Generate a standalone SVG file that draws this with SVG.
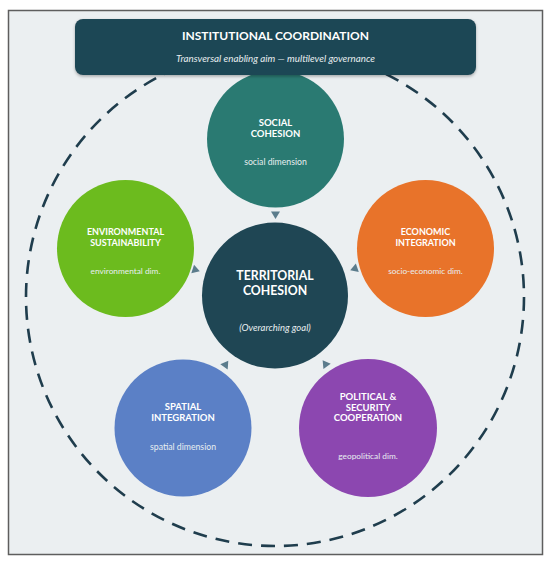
<svg xmlns="http://www.w3.org/2000/svg" width="550" height="565" viewBox="0 0 550 565">
<defs>
<style>
.ttl{font-family:Lato,"Open Sans","Liberation Sans",sans-serif;font-weight:700;fill:#ffffff;text-anchor:middle}
.sub{font-family:Lato,"Open Sans","Liberation Sans",sans-serif;font-weight:400;fill:#e8eef0;text-anchor:middle}
.it{font-style:italic}
.arr{fill:#5b7c8c}
</style>
<filter id="sh" x="-10%" y="-30%" width="120%" height="160%">
<feDropShadow dx="0" dy="1.5" stdDeviation="1.5" flood-color="#000" flood-opacity="0.3"/>
</filter>
</defs>
<rect x="0" y="0" width="550" height="565" fill="#ffffff"/>
<rect x="8.5" y="10.5" width="534" height="544" fill="#ebeff1" stroke="#5e5e5e" stroke-width="1.5"/>
<circle id="boundary" cx="275" cy="297" r="249" fill="none" stroke="#1f3d4d" stroke-width="2.6" stroke-dasharray="14 9"/>
<g id="social">
<circle cx="275.5" cy="139" r="68.5" fill="#2a7a72"/>
<text class="ttl" x="275.5" y="126" font-size="9.5">SOCIAL</text>
<text class="ttl" x="275.5" y="136.5" font-size="9.5">COHESION</text>
<text class="sub" x="275.5" y="165" font-size="8.7">social dimension</text>
</g>
<g id="institutional">
<rect x="75" y="19" width="401" height="56" rx="8" fill="#1f4654" filter="url(#sh)"/>
<text class="ttl" x="275.5" y="40" font-size="12">INSTITUTIONAL COORDINATION</text>
<text class="sub it" x="275.5" y="62" font-size="9.8" fill="#dfe7ea">Transversal enabling aim — multilevel governance</text>
</g>
<g id="environmental">
<circle cx="125.5" cy="248.5" r="68.5" fill="#6cbb1e"/>
<text class="ttl" x="125.5" y="235" font-size="9">ENVIRONMENTAL</text>
<text class="ttl" x="125.5" y="245.5" font-size="9">SUSTAINABILITY</text>
<text class="sub" x="125.5" y="274" font-size="8.3">environmental dim.</text>
</g>
<g id="economic">
<circle cx="425.5" cy="248.5" r="68.5" fill="#e8732a"/>
<text class="ttl" x="425.5" y="235" font-size="9">ECONOMIC</text>
<text class="ttl" x="425.5" y="245.5" font-size="9">INTEGRATION</text>
<text class="sub" x="425.5" y="274" font-size="8.3">socio-economic dim.</text>
</g>
<g id="territorial">
<circle cx="275" cy="295.5" r="73" fill="#1f4654"/>
<text class="ttl" x="275" y="280" font-size="12.3">TERRITORIAL</text>
<text class="ttl" x="275" y="295" font-size="12.3">COHESION</text>
<text class="sub it" x="275" y="331" font-size="9.5" fill="#dfe7ea">(Overarching goal)</text>
</g>
<g id="spatial">
<circle cx="183" cy="428" r="68.5" fill="#5b80c6"/>
<text class="ttl" x="183" y="410" font-size="9.5">SPATIAL</text>
<text class="ttl" x="183" y="420.5" font-size="9.5">INTEGRATION</text>
<text class="sub" x="183" y="450" font-size="8.7">spatial dimension</text>
</g>
<g id="political">
<circle cx="368" cy="428" r="69" fill="#8c47b0"/>
<text class="ttl" x="368" y="400" font-size="9.5">POLITICAL &amp;</text>
<text class="ttl" x="368" y="410.5" font-size="9.5">SECURITY</text>
<text class="ttl" x="368" y="421" font-size="9.5">COOPERATION</text>
<text class="sub" x="368" y="459" font-size="8.3">geopolitical dim.</text>
</g>
<g id="connectors">
<polygon class="arr" points="-3.5,-4.5 4,0 -3.5,4.5" transform="translate(275.5,215) rotate(90)"/>
<polygon class="arr" points="-3.5,-4.5 4,0 -3.5,4.5" transform="translate(196,270) rotate(18)"/>
<polygon class="arr" points="-3.5,-4.5 4,0 -3.5,4.5" transform="translate(354,269) rotate(161)"/>
<polygon class="arr" points="-3.5,-4.5 4,0 -3.5,4.5" transform="translate(226,364) rotate(-55)"/>
<polygon class="arr" points="-3.5,-4.5 4,0 -3.5,4.5" transform="translate(325,363.5) rotate(-126)"/>
</g>
</svg>
